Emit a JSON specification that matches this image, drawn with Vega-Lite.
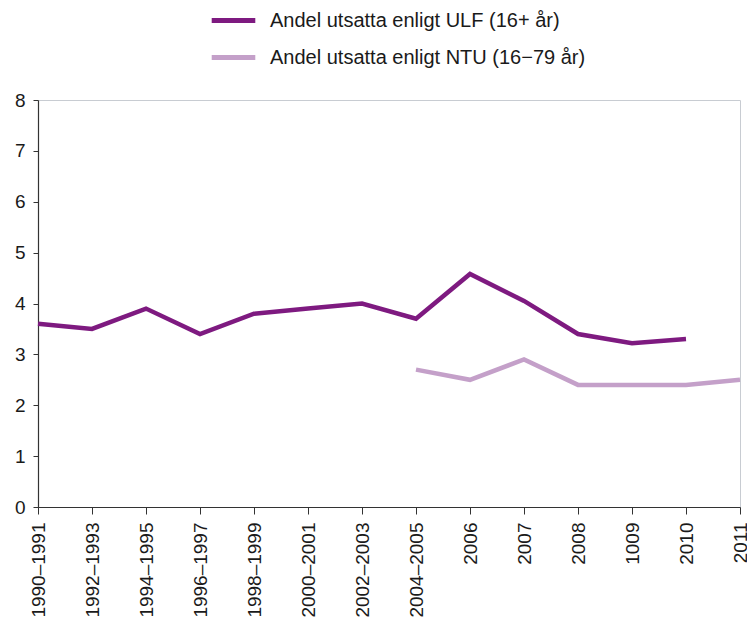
{
  "$schema": "https://vega.github.io/schema/vega-lite/v6.json",
  "autosize": "none",
  "width": 702,
  "height": 407,
  "padding": {"left": 38, "top": 100, "right": 7, "bottom": 120},
  "background": "white",
  "config": {
    "font": "Liberation Sans",
    "view": {"stroke": "#c8ccd2", "strokeWidth": 1}
  },
  "data": {
    "values": [
      {"period": "1990–1991", "series": "Andel utsatta enligt ULF (16+ år)", "value": 3.6},
      {"period": "1992–1993", "series": "Andel utsatta enligt ULF (16+ år)", "value": 3.5},
      {"period": "1994–1995", "series": "Andel utsatta enligt ULF (16+ år)", "value": 3.9},
      {"period": "1996–1997", "series": "Andel utsatta enligt ULF (16+ år)", "value": 3.4},
      {"period": "1998–1999", "series": "Andel utsatta enligt ULF (16+ år)", "value": 3.8},
      {"period": "2000–2001", "series": "Andel utsatta enligt ULF (16+ år)", "value": 3.9},
      {"period": "2002–2003", "series": "Andel utsatta enligt ULF (16+ år)", "value": 4.0},
      {"period": "2004–2005", "series": "Andel utsatta enligt ULF (16+ år)", "value": 3.7},
      {"period": "2006", "series": "Andel utsatta enligt ULF (16+ år)", "value": 4.58},
      {"period": "2007", "series": "Andel utsatta enligt ULF (16+ år)", "value": 4.05},
      {"period": "2008", "series": "Andel utsatta enligt ULF (16+ år)", "value": 3.4},
      {"period": "1009", "series": "Andel utsatta enligt ULF (16+ år)", "value": 3.22},
      {"period": "2010", "series": "Andel utsatta enligt ULF (16+ år)", "value": 3.3},
      {"period": "2004–2005", "series": "Andel utsatta enligt NTU (16−79 år)", "value": 2.7},
      {"period": "2006", "series": "Andel utsatta enligt NTU (16−79 år)", "value": 2.5},
      {"period": "2007", "series": "Andel utsatta enligt NTU (16−79 år)", "value": 2.9},
      {"period": "2008", "series": "Andel utsatta enligt NTU (16−79 år)", "value": 2.4},
      {"period": "1009", "series": "Andel utsatta enligt NTU (16−79 år)", "value": 2.4},
      {"period": "2010", "series": "Andel utsatta enligt NTU (16−79 år)", "value": 2.4},
      {"period": "2011", "series": "Andel utsatta enligt NTU (16−79 år)", "value": 2.5}
    ]
  },
  "mark": {"type": "line", "strokeWidth": 4.5, "strokeJoin": "miter"},
  "encoding": {
    "x": {
      "field": "period",
      "type": "ordinal",
      "sort": ["1990–1991", "1992–1993", "1994–1995", "1996–1997", "1998–1999", "2000–2001", "2002–2003", "2004–2005", "2006", "2007", "2008", "1009", "2010", "2011"],
      "scale": {"type": "point", "padding": 0},
      "axis": {
        "title": null,
        "labelAngle": -90,
        "labelAlign": "right",
        "labelBaseline": "middle",
        "labelFontSize": 19,
        "labelColor": "#1a1a1a",
        "labelPadding": 8,
        "labelLimit": 0,
        "labelOverlap": false,
        "tickSize": 7,
        "tickColor": "#333333",
        "domainColor": "#333333",
        "domainWidth": 1.2,
        "grid": false
      }
    },
    "y": {
      "field": "value",
      "type": "quantitative",
      "scale": {"domain": [0, 8], "nice": false},
      "axis": {
        "title": null,
        "values": [0, 1, 2, 3, 4, 5, 6, 7, 8],
        "labelFontSize": 19,
        "labelColor": "#1a1a1a",
        "labelPadding": 8,
        "tickSize": 5,
        "tickColor": "#333333",
        "domainColor": "#333333",
        "domainWidth": 1.2,
        "grid": false
      }
    },
    "color": {
      "field": "series",
      "type": "nominal",
      "sort": ["Andel utsatta enligt ULF (16+ år)", "Andel utsatta enligt NTU (16−79 år)"],
      "scale": {"range": ["#7e1a80", "#c4a0c9"]},
      "legend": {
        "title": null,
        "orient": "none",
        "legendX": 171,
        "legendY": -104,
        "symbolType": "stroke",
        "symbolSize": 1900,
        "symbolStrokeWidth": 5,
        "labelFontSize": 20,
        "labelLimit": 0,
        "labelColor": "#1a1a1a",
        "labelOffset": 12,
        "rowPadding": 2
      }
    }
  }
}
